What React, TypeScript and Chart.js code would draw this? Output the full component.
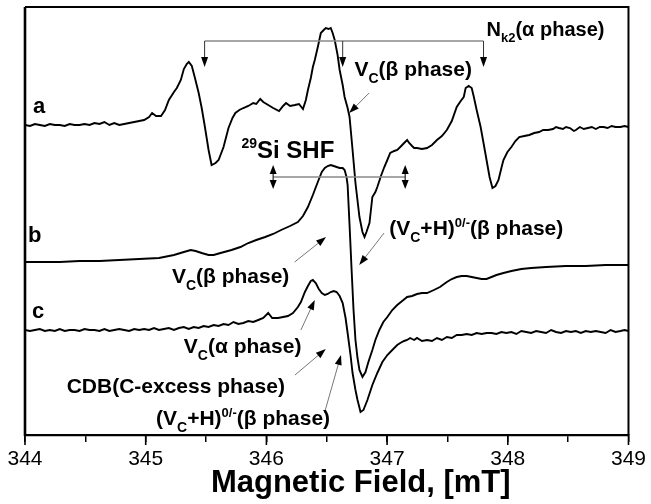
import React, { useEffect, useRef } from "react";
import { Chart, registerables } from "chart.js";

Chart.register(...registerables);

const FONT = "'Liberation Sans', Arial, Helvetica, sans-serif";

// ---------- axis ----------
const X_MIN = 344;
const X_MAX = 349;
const Y_MIN = 0;
const Y_MAX = 428;
const X_TICKS = [344, 344.5, 345, 345.5, 346, 346.5, 347, 347.5, 348, 348.5, 349];
const X_TICK_LABELS = ["344", "", "345", "", "346", "", "347", "", "348", "", "349"];
const X_TITLE = "Magnetic Field, [mT]";

// ---------- trace a ----------
const FIELD_A = [
  344.0, 344.041, 344.082, 344.123, 344.164, 344.206, 344.247, 344.288, 344.329, 344.37,
  344.411, 344.452, 344.493, 344.535, 344.576, 344.617, 344.658, 344.699, 344.74, 344.781,
  344.822, 344.863, 344.905, 344.946, 344.987, 345.028, 345.053, 345.086, 345.127, 345.16,
  345.192, 345.234, 345.258, 345.291, 345.316, 345.34, 345.357, 345.382, 345.406, 345.439,
  345.464, 345.488, 345.521, 345.546, 345.579, 345.604, 345.645, 345.686, 345.719, 345.743,
  345.776, 345.809, 345.85, 345.891, 345.916, 345.949, 345.974, 346.015, 346.056, 346.105,
  346.138, 346.163, 346.196, 346.237, 346.27, 346.303, 346.327, 346.344, 346.368, 346.385,
  346.401, 346.426, 346.451, 346.475, 346.492, 346.516, 346.533, 346.549, 346.566, 346.59,
  346.607, 346.632, 346.648, 346.673, 346.689, 346.714, 346.738, 346.771, 346.796, 346.813,
  346.829, 346.854, 346.878, 346.903, 346.919, 346.952, 346.977, 347.002, 347.026, 347.059,
  347.084, 347.109, 347.141, 347.166, 347.183, 347.207, 347.224, 347.248, 347.289, 347.331,
  347.372, 347.413, 347.454, 347.495, 347.536, 347.577, 347.61, 347.635, 347.651, 347.676,
  347.701, 347.717, 347.742, 347.775, 347.799, 347.824, 347.849, 347.873, 347.898, 347.923,
  347.947, 347.964, 347.997, 348.03, 348.063, 348.095, 348.137, 348.178, 348.219, 348.26,
  348.293, 348.334, 348.375, 348.4, 348.424, 348.457, 348.482, 348.515, 348.548, 348.564,
  348.597, 348.63, 348.663, 348.696, 348.729, 348.762, 348.794, 348.827, 348.86, 348.893,
  348.934, 348.967, 349.0,
];
const SIGNAL_A = [
  310, 309, 311, 310, 309, 311, 310, 310, 309, 311,
  310, 310, 311, 310, 312, 311, 313, 310, 312, 310,
  311, 312, 313, 314, 315, 318, 322, 319, 319, 325,
  335, 343, 347, 355, 366, 371, 373, 369, 358, 342,
  327, 310, 285, 270, 272, 275, 288, 307, 317, 322,
  325, 327, 329, 332, 331, 336, 333, 330, 327, 324,
  329, 332, 329, 330, 331, 326, 335, 345, 357, 368,
  375, 388, 402, 405, 407, 406, 407, 402, 395, 380,
  365, 350, 338, 327, 318, 285, 252, 218, 203, 198,
  203, 212, 238, 243, 248, 260, 268, 275, 282, 284,
  285, 288, 292, 295, 292, 289, 287, 287, 286, 287,
  290, 295, 299, 305, 314, 328, 334, 338, 347, 349,
  347, 339, 325, 308, 292, 275, 258, 247, 249, 255,
  267, 275, 283, 288, 294, 298, 299, 300, 302, 303,
  305, 305, 306, 308, 307, 306, 308, 307, 304, 305,
  308, 306, 307, 308, 306, 308, 308, 307, 309, 308,
  308, 309, 308,
];

// ---------- trace b ----------
const FIELD_B = [
  344.0, 344.123, 344.288, 344.452, 344.617, 344.781, 344.946, 345.11, 345.234, 345.316,
  345.373, 345.414, 345.464, 345.521, 345.563, 345.62, 345.711, 345.785, 345.85, 345.916,
  345.99, 346.056, 346.122, 346.196, 346.261, 346.303, 346.344, 346.385, 346.426, 346.459,
  346.484, 346.508, 346.533, 346.558, 346.582, 346.607, 346.632, 346.648, 346.664, 346.673,
  346.689, 346.706, 346.722, 346.738, 346.755, 346.771, 346.796, 346.821, 346.845, 346.878,
  346.903, 346.936, 346.969, 347.002, 347.043, 347.084, 347.125, 347.166, 347.207, 347.248,
  347.289, 347.331, 347.388, 347.438, 347.495, 347.536, 347.577, 347.618, 347.66, 347.701,
  347.742, 347.783, 347.824, 347.865, 347.906, 347.964, 348.03, 348.112, 348.194, 348.317,
  348.482, 348.646, 348.811, 349.0,
];
const SIGNAL_B = [
  173, 173, 173, 174, 174, 175, 176, 177, 180, 183,
  185, 184, 182, 180, 180, 182, 185, 188, 192, 195,
  198, 201, 205, 209, 213, 219, 228, 240, 253, 263,
  267, 269, 270, 269, 268, 267, 267, 265, 258, 250,
  210, 165, 125, 95, 77, 65, 58, 63, 73, 85,
  95, 105, 113, 118, 125, 130, 134, 138, 139, 141,
  142, 142, 145, 148, 153, 156, 158, 159, 159, 158,
  157, 156, 156, 158, 160, 162, 164, 166, 167, 168,
  169, 169, 170, 170,
];

// ---------- trace c ----------
const FIELD_C = [
  344.0, 344.041, 344.082, 344.123, 344.164, 344.206, 344.247, 344.288, 344.329, 344.37,
  344.411, 344.452, 344.493, 344.535, 344.576, 344.617, 344.658, 344.699, 344.74, 344.781,
  344.822, 344.863, 344.905, 344.946, 344.987, 345.028, 345.069, 345.11, 345.151, 345.192,
  345.234, 345.275, 345.316, 345.357, 345.398, 345.439, 345.48, 345.521, 345.563, 345.604,
  345.645, 345.686, 345.727, 345.768, 345.809, 345.85, 345.891, 345.933, 345.974, 346.015,
  346.048, 346.097, 346.138, 346.179, 346.22, 346.261, 346.286, 346.319, 346.344, 346.368,
  346.385, 346.409, 346.434, 346.459, 346.484, 346.508, 346.533, 346.558, 346.582, 346.607,
  346.632, 346.656, 346.673, 346.697, 346.714, 346.738, 346.755, 346.78, 346.804, 346.837,
  346.878, 346.919, 346.961, 347.002, 347.043, 347.084, 347.109, 347.141, 347.166, 347.191,
  347.224, 347.248, 347.289, 347.331, 347.372, 347.413, 347.454, 347.495, 347.536, 347.577,
  347.618, 347.66, 347.701, 347.742, 347.783, 347.824, 347.865, 347.906, 347.947, 347.988,
  348.03, 348.071, 348.112, 348.153, 348.194, 348.235, 348.276, 348.317, 348.359, 348.4,
  348.441, 348.482, 348.523, 348.564, 348.605, 348.646, 348.688, 348.729, 348.77, 348.811,
  348.852, 348.893, 348.934, 348.967, 349.0,
];
const SIGNAL_C = [
  105, 104, 105, 106, 104, 105, 104, 106, 104, 105,
  105, 104, 106, 105, 105, 104, 106, 104, 105, 106,
  105, 104, 106, 105, 106, 105, 107, 105, 106, 107,
  105, 107, 108, 106, 108, 107, 109, 108, 110, 109,
  111, 110, 113, 111, 112, 114, 113, 115, 117, 122,
  117, 117, 118, 119, 122, 128, 133, 143, 149, 154,
  155, 152, 146, 142, 140, 141, 143, 144, 143, 139,
  132, 117, 102, 80, 62, 45, 35, 23, 25, 35,
  50, 62, 73, 80, 85, 90, 92, 94, 95, 97,
  95, 97, 94, 95, 94, 97, 95, 98, 97, 100,
  100, 101, 100, 102, 101, 102, 102, 101, 103, 102,
  103, 101, 104, 103, 102, 104, 103, 102, 105, 103,
  102, 104, 103, 104, 102, 104, 103, 104, 103, 102,
  105, 103, 104, 105, 104,
];

// ---------- trace labels ----------
const TRACE_NAMES = ["a", "b", "c"];
const TRACE_NAME_FIELD = [344.066, 344.025, 344.058];
const TRACE_NAME_LEVEL = [322, 193, 117];

// ---------- annotations ----------
type Seg = { t: string; kind?: "sub" | "sup" };
type Note = { segs: Seg[]; x: number; y: number; size: number };
const NOTES: Note[] = [
  { segs: [{ t: "N" }, { t: "k2", kind: "sub" }, { t: "(α phase)" }], x: 347.824, y: 399, size: 20 },
  { segs: [{ t: "V" }, { t: "C", kind: "sub" }, { t: "(β phase)" }], x: 346.73, y: 359, size: 21 },
  { segs: [{ t: "29", kind: "sup" }, { t: "Si SHF" }], x: 345.793, y: 277, size: 24 },
  { segs: [{ t: "(V" }, { t: "C", kind: "sub" }, { t: "+H)" }, { t: "0/-", kind: "sup" }, { t: "(β phase)" }], x: 347.018, y: 200, size: 21 },
  { segs: [{ t: "V" }, { t: "C", kind: "sub" }, { t: "(β phase)" }], x: 345.217, y: 152, size: 21 },
  { segs: [{ t: "V" }, { t: "C", kind: "sub" }, { t: "(α phase)" }], x: 345.316, y: 82, size: 21 },
  { segs: [{ t: "CDB(C-excess phase)" }], x: 344.345, y: 42, size: 21 },
  { segs: [{ t: "(V" }, { t: "C", kind: "sub" }, { t: "+H)" }, { t: "0/-", kind: "sup" }, { t: "(β phase)" }], x: 345.086, y: 10, size: 21 },
];
// arrows: [fromX, fromY, tipX, tipY]
const ARROWS: number[][] = [
  [346.851, 342, 346.686, 322],
  [346.975, 202, 346.769, 170],
  [346.234, 173, 346.494, 198],
  [346.286, 105, 346.401, 135],
  [346.237, 60, 346.492, 86],
  [346.481, 22, 346.618, 80],
];
// N_k2 splitting bracket
const NK2_LINES = [345.488, 346.632, 347.799];
const NK2_LEVEL = 394;
const NK2_TIP = 368;
// 29Si SHF bracket
const SHF_ENDS = [346.056, 347.15];
const SHF_LEVEL = 258;
const SHF_HALF = 12;

function head(ctx: CanvasRenderingContext2D, x1: number, y1: number, x2: number, y2: number, len: number, half: number) {
  const a = Math.atan2(y2 - y1, x2 - x1);
  const c = Math.cos(a), s = Math.sin(a);
  ctx.beginPath();
  ctx.moveTo(x2, y2);
  ctx.lineTo(x2 - len * c + half * s, y2 - len * s - half * c);
  ctx.lineTo(x2 - len * c - half * s, y2 - len * s + half * c);
  ctx.closePath();
  ctx.fill();
}

function drawRich(ctx: CanvasRenderingContext2D, segs: Seg[], x: number, y: number, size: number) {
  let cx = x;
  for (const s of segs) {
    let fs = size;
    let dy = 0;
    if (s.kind === "sub") { fs = Math.round(size * 0.65); dy = size * 0.32; }
    if (s.kind === "sup") { fs = Math.round(size * 0.6); dy = -size * 0.4; }
    ctx.font = `bold ${fs}px ${FONT}`;
    ctx.fillText(s.t, cx, y + dy);
    cx += ctx.measureText(s.t).width;
  }
}

const overlay = {
  id: "overlay",
  afterDraw(chart: any) {
    const { ctx, chartArea: a, scales } = chart;
    const px = (v: number) => scales.x.getPixelForValue(v);
    const py = (v: number) => scales.y.getPixelForValue(v);
    ctx.save();
    // frame
    ctx.strokeStyle = "#000";
    ctx.lineWidth = 2;
    ctx.beginPath();
    ctx.moveTo(a.left, a.top);
    ctx.lineTo(a.right, a.top);
    ctx.lineTo(a.right, a.bottom);
    ctx.stroke();
    ctx.lineWidth = 2.6;
    ctx.beginPath();
    ctx.moveTo(a.left, a.top);
    ctx.lineTo(a.left, a.bottom + 1);
    ctx.stroke();

    // longer major ticks
    ctx.lineWidth = 1.6;
    X_TICKS.forEach((v, i) => {
      if (!X_TICK_LABELS[i]) return;
      ctx.beginPath();
      ctx.moveTo(px(v), a.bottom);
      ctx.lineTo(px(v), a.bottom + 10);
      ctx.stroke();
    });

    // Nk2 bracket
    ctx.strokeStyle = "#8a8a8a";
    ctx.lineWidth = 1.3;
    ctx.beginPath();
    ctx.moveTo(px(NK2_LINES[0]), py(NK2_LEVEL));
    ctx.lineTo(px(NK2_LINES[2]), py(NK2_LEVEL));
    ctx.stroke();
    ctx.fillStyle = "#000";
    for (const v of NK2_LINES) {
      ctx.strokeStyle = "#333";
      ctx.lineWidth = 1;
      ctx.beginPath();
      ctx.moveTo(px(v), py(NK2_LEVEL));
      ctx.lineTo(px(v), py(NK2_TIP) - 8);
      ctx.stroke();
      head(ctx, px(v), py(NK2_LEVEL), px(v), py(NK2_TIP), 10, 3.5);
    }

    // SHF bracket
    ctx.strokeStyle = "#8a8a8a";
    ctx.lineWidth = 1.3;
    ctx.beginPath();
    ctx.moveTo(px(SHF_ENDS[0]), py(SHF_LEVEL));
    ctx.lineTo(px(SHF_ENDS[1]), py(SHF_LEVEL));
    ctx.stroke();
    for (const v of SHF_ENDS) {
      const x0 = px(v);
      const yc = py(SHF_LEVEL);
      ctx.strokeStyle = "#222";
      ctx.lineWidth = 1.2;
      ctx.beginPath();
      ctx.moveTo(x0, yc - SHF_HALF + 6);
      ctx.lineTo(x0, yc + SHF_HALF - 6);
      ctx.stroke();
      head(ctx, x0, yc, x0, yc - SHF_HALF, 9, 3.5);
      head(ctx, x0, yc, x0, yc + SHF_HALF, 9, 3.5);
    }

    // pointer arrows
    for (const [x1, y1, x2, y2] of ARROWS) {
      const X1 = px(x1), Y1 = py(y1), X2 = px(x2), Y2 = py(y2);
      const L = Math.hypot(X2 - X1, Y2 - Y1);
      const ex = X2 - ((X2 - X1) / L) * 8, ey = Y2 - ((Y2 - Y1) / L) * 8;
      ctx.strokeStyle = "#777";
      ctx.lineWidth = 1;
      ctx.beginPath();
      ctx.moveTo(X1, Y1);
      ctx.lineTo(ex, ey);
      ctx.stroke();
      ctx.fillStyle = "#000";
      head(ctx, X1, Y1, X2, Y2, 10, 3.5);
    }

    // notes
    ctx.fillStyle = "#000";
    ctx.textBaseline = "alphabetic";
    ctx.textAlign = "left";
    for (const n of NOTES) drawRich(ctx, n.segs, px(n.x), py(n.y), n.size);

    // trace names
    ctx.font = `bold 22px ${FONT}`;
    TRACE_NAMES.forEach((t, i) => ctx.fillText(t, px(TRACE_NAME_FIELD[i]), py(TRACE_NAME_LEVEL[i])));

    // axis title
    ctx.font = `bold 31px ${FONT}`;
    ctx.textAlign = "center";
    ctx.fillText(X_TITLE, (a.left + a.right) / 2 + 34, a.bottom + 57);
    ctx.restore();
  },
};

export default function App() {
  const ref = useRef<HTMLCanvasElement>(null);
  useEffect(() => {
    if (!ref.current) return;
    const mk = (fx: number[], sy: number[]) => fx.map((x, i) => ({ x, y: sy[i] }));
    const line = (data: any) => ({
      data,
      borderColor: "#000",
      borderWidth: 1.9,
      pointRadius: 0,
      fill: false,
      tension: 0,
    });
    const chart = new Chart(ref.current, {
      type: "line",
      data: {
        datasets: [line(mk(FIELD_A, SIGNAL_A)), line(mk(FIELD_B, SIGNAL_B)), line(mk(FIELD_C, SIGNAL_C))],
      },
      options: {
        animation: false,
        responsive: false,
        devicePixelRatio: 1,
        layout: { padding: { left: 25, right: 18, top: 7, bottom: 0 } },
        plugins: { legend: { display: false }, tooltip: { enabled: false } },
        scales: {
          x: {
            type: "linear",
            min: X_MIN,
            max: X_MAX,
            afterBuildTicks: (scale: any) => {
              scale.ticks = X_TICKS.map((v) => ({ value: v }));
            },
            afterFit: (scale: any) => {
              scale.height = 69;
            },
            ticks: {
              autoSkip: false,
              maxRotation: 0,
              minRotation: 0,
              padding: 5,
              color: "#000",
              font: { family: FONT, size: 21 },
              callback: (v: any) => {
                const i = X_TICKS.findIndex((t) => Math.abs(t - Number(v)) < 1e-6);
                return i >= 0 ? X_TICK_LABELS[i] : "";
              },
            },
            grid: { drawOnChartArea: false, drawTicks: true, tickLength: 7, color: "#000", lineWidth: 1.5 },
            border: { display: true, color: "#000", width: 2.3 },
          },
          y: { type: "linear", min: Y_MIN, max: Y_MAX, display: false },
        },
      },
      plugins: [overlay],
    } as any);
    return () => chart.destroy();
  }, []);
  return (
    <div style={{ position: "absolute", left: 0, top: 0, width: 651, height: 504, background: "#fff" }}>
      <canvas ref={ref} width={651} height={504} style={{ display: "block" }} />
    </div>
  );
}
